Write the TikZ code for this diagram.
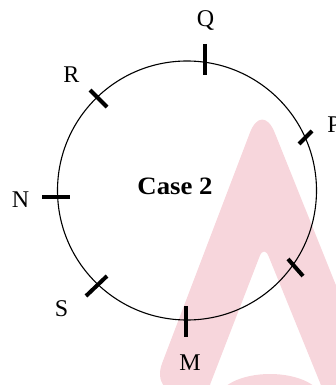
\documentclass[tikz,border=0pt]{standalone}
\usepackage{fontspec}
\setmainfont{Liberation Serif}
\definecolor{wm}{RGB}{247,214,220}
\tikzset{
  ring/.style={draw=black, line width=1.1pt},
  tick/.style={draw=black, line width=4pt},
  lbl/.style={anchor=base, inner sep=0pt, font=\fontsize{24}{24}\selectfont, text=black},
  title/.style={anchor=base, inner sep=0pt, font=\fontsize{25}{25}\selectfont\bfseries, text=black, xscale=1.07}
}
\begin{document}
\begin{tikzpicture}[x=1pt,y=-1pt]
\useasboundingbox (0,0) rectangle (336,385);
\begin{scope}
\clip (0,0) rectangle (336,385);
% watermark
\fill[wm, even odd rule, rounded corners=34pt] (150,395) -- (262,101) -- (380,395) -- cycle
  [rounded corners=12pt] (206,395) -- (264,245) -- (325,395) -- cycle;
\fill[wm] (270,400) ellipse [x radius=52pt, y radius=26pt];
\end{scope}
% circle
\draw[ring] (187,190.5) circle [radius=129.5pt];
% ticks
\draw[tick] (205,44) -- (205,75);
\draw[tick] (90,90) -- (107,107);
\draw[tick] (299,144) -- (312,131);
\draw[tick] (42,197) -- (70,197);
\draw[tick] (86,296) -- (107,276);
\draw[tick] (186,306) -- (186,337);
\draw[tick] (288,259) -- (303,276);
% labels
\node[lbl] (q) at (205.5,27) {Q};
\node[lbl] (r) at (71.5,83) {R};
\node[lbl] (p) at (334,132) {P};
\node[lbl] (n) at (20.5,207) {N};
\node[lbl] (s) at (61.5,316) {S};
\node[lbl] (m) at (190,370) {M};
\node[title] (c) at (175,194) {Case 2};
\end{tikzpicture}
\end{document}
